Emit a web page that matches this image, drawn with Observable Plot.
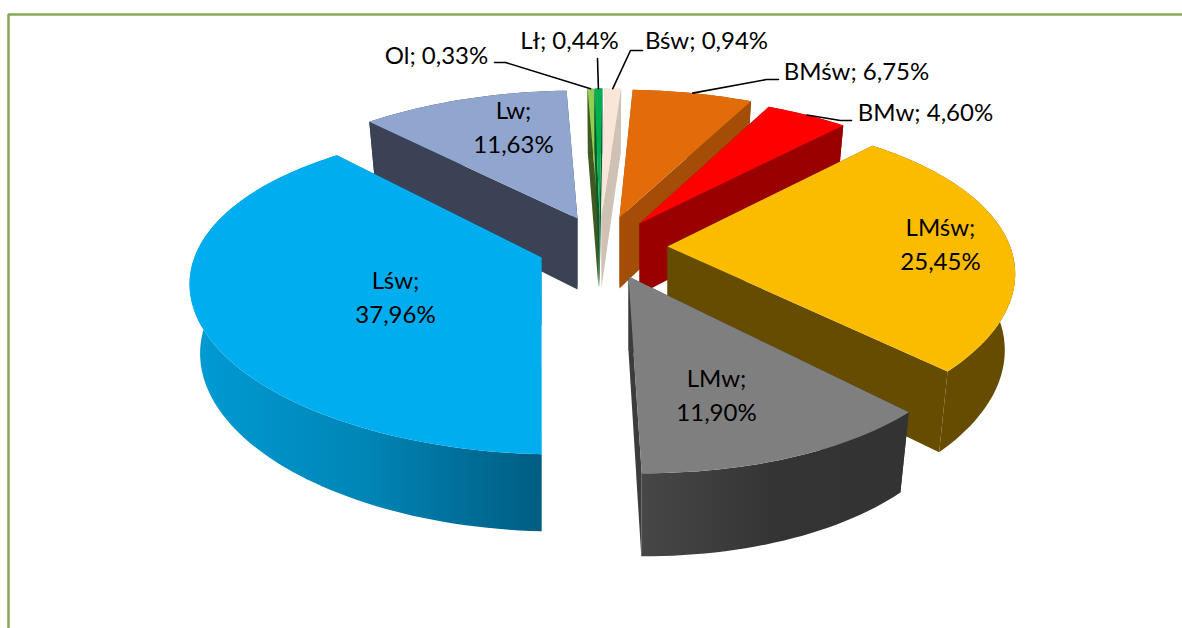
<!DOCTYPE html>
<html>
<head>
<meta charset="utf-8">
<script src="https://cdn.jsdelivr.net/npm/d3@7"></script>
<script src="https://cdn.jsdelivr.net/npm/@observablehq/plot@0.6"></script>
<style>html,body{margin:0;padding:0;background:#fff}svg{display:block}</style>
</head>
<body>
<div id="chart"></div>
<script>
// Data (clockwise from the top of the pie)
const categories = ["Ol","Lł","Bśw","BMśw","BMw","LMśw","LMw","Lśw","Lw"];
const shares = [0.33,0.44,0.94,6.75,4.60,25.45,11.90,37.96,11.63];
const shareLabels = ["0,33%","0,44%","0,94%","6,75%","4,60%","25,45%","11,90%","37,96%","11,63%"];

// Colours
const topColors = ["#92CF4F","#00B050","#F8E7D8","#E26B0A","#FF0000","#FBBC00","#7F7F7F","#00AEEF","#91A6CF"];
const wallColors = ["#3F5A20","#0B5A2E","#CFC1B3","#A34D07","#990000","#654C00","#3C3C3C","#0084B5","#3C4256"];
const outerGradients = {LMw:"url(#gLMw)", "Lśw":"url(#gLsw)"};

// Layout: the exploded position of each slice and the shared perspective of the disc
const apexX = [598,599,601,619,639,667,628,541,577];
const apexY = [216,216,216,217,223,246,276,257,218];
const tilt  = [2.2,2.2,2.2,3.5,4,3,1,1.5,2.2];
const xScale = [1,1,1,1,1,0.985,0.975,0.997,1];
const shearX = [0,0,0,0,0,0,0.085,0,0];
const shearY = [0,0,0,0,0,-0.02,0,0.022,0];
const wallH = [71,71,71,71,71,75,74,68,71];
const paint = ["Lw","Ol","Lł","Bśw","BMśw","BMw","LMśw","LMw","Lśw"];
const disc = {a:345, b:155, k:0.212, sx:0.97, sy:1.046};
const labelOffsets = {Lw:[-64,-90.5], "Lśw":[-146,40.5], LMw:[88,119.5], "LMśw":[273,-1.5]};
const outerLabels = {Ol:[436,56], "Lł":[569,41], "Bśw":[706,41], "BMśw":[856,72], BMw:[925,113]};
const leaderElbows = {Ol:[[494,62],[505,62]], "Lł":[[597,58]], "Bśw":[[642,50],[630,50]], "BMśw":[[778,79],[766,79]], BMw:[[851,120],[840,120]]};

function offset(i, deg) {
  const t = (deg - tilt[i]) * Math.PI / 180, u = Math.sin(t), v = Math.cos(t), d = 1 + disc.k * v;
  const x = xScale[i] * disc.a * u / d, y = -disc.b * v / d;
  return [x + shearX[i] * y, y + shearY[i] * x];
}
const topAt = (i, deg) => { const o = offset(i, deg); return [apexX[i] + o[0], apexY[i] + o[1]]; };
const botAt = (i, deg) => { const o = offset(i, deg); return [apexX[i] + disc.sx * o[0], apexY[i] + wallH[i] + disc.sy * o[1]]; };

let cum = 0;
const slices = categories.map((name, i) => {
  const a0 = cum / 100 * 360; cum += shares[i]; const a1 = cum / 100 * 360;
  return {name, i, a0, a1, mid: (a0 + a1) / 2};
});

function arc(s, at) {
  const n = Math.max(2, Math.ceil((s.a1 - s.a0) / 1.5));
  return d3.range(n + 1).map(j => at(s.i, s.a0 + (s.a1 - s.a0) * j / n));
}

const pts = [];
function addFace(id, fill, coords) { coords.forEach(([x, y]) => pts.push({id, fill, x, y})); }
function radial(s, deg, tag) {
  const i = s.i, A = [apexX[i], apexY[i]], B = [apexX[i], apexY[i] + wallH[i]];
  addFace(s.name + tag, wallColors[i], [A, topAt(i, deg), botAt(i, deg), B]);
}
paint.forEach(name => {
  const s = slices[categories.indexOf(name)], i = s.i;
  const nearEnd = s.mid < 180;
  radial(s, nearEnd ? s.a0 : s.a1, "-far");
  radial(s, nearEnd ? s.a1 : s.a0, "-near");
  addFace(name + "-outer", outerGradients[name] || wallColors[i], [...arc(s, topAt), ...arc(s, botAt).reverse()]);
  addFace(name + "-top", topColors[i], [[apexX[i], apexY[i]], ...arc(s, topAt)]);
});

const insideLabels = Object.keys(labelOffsets).flatMap(name => {
  const i = categories.indexOf(name), [dx, dy] = labelOffsets[name];
  return [
    {t: name + ";", x: apexX[i] + dx, y: apexY[i] + dy - 17},
    {t: shareLabels[i], x: apexX[i] + dx, y: apexY[i] + dy + 17}
  ];
});
const outsideLabels = Object.keys(outerLabels).map(name => ({
  t: name + "; " + shareLabels[categories.indexOf(name)], x: outerLabels[name][0], y: outerLabels[name][1]
}));
const leaders = Object.keys(leaderElbows).flatMap(name => {
  const s = slices[categories.indexOf(name)];
  return [...leaderElbows[name].map(([x, y]) => ({name, x, y})), (([x, y]) => ({name, x, y}))(topAt(s.i, s.mid))];
});

const defs = () => {
  const g = d3.create("svg:defs");
  const grad = (id, stops) => {
    const l = g.append("linearGradient").attr("id", id);
    stops.forEach(([o, c]) => l.append("stop").attr("offset", o).attr("stop-color", c));
  };
  grad("gLsw", [[0,"#009BD4"],[0.5,"#0085B6"],[1,"#005D82"]]);
  grad("gLMw", [[0,"#474747"],[0.5,"#343434"],[1,"#333333"]]);
  return g.node();
};

const font = "Lato, Carlito, sans-serif";
const chart = Plot.plot({
  width: 1182, height: 628, margin: 0,
  x: {type: "identity", axis: null},
  y: {type: "identity", axis: null},
  color: {type: "identity"},
  style: {background: "#fff"},
  marks: [
    defs,
    Plot.ruleX([8], {y1: 14, y2: 628, stroke: "#8AA85A", strokeWidth: 2.5}),
    Plot.ruleY([14], {x1: 8, x2: 1182, stroke: "#8AA85A", strokeWidth: 2.5}),
    Plot.line(pts, {x: "x", y: "y", z: "id", fill: "fill", stroke: null, curve: "linear-closed"}),
    Plot.line(leaders, {x: "x", y: "y", z: "name", stroke: "#000", strokeWidth: 1.6, curve: "linear"}),
    Plot.text([...insideLabels, ...outsideLabels], {x: "x", y: "y", text: "t", fontFamily: font, fontSize: 24, fill: "#000", textAnchor: "middle"})
  ]
});
document.getElementById("chart").appendChild(chart);
</script>
</body>
</html>
